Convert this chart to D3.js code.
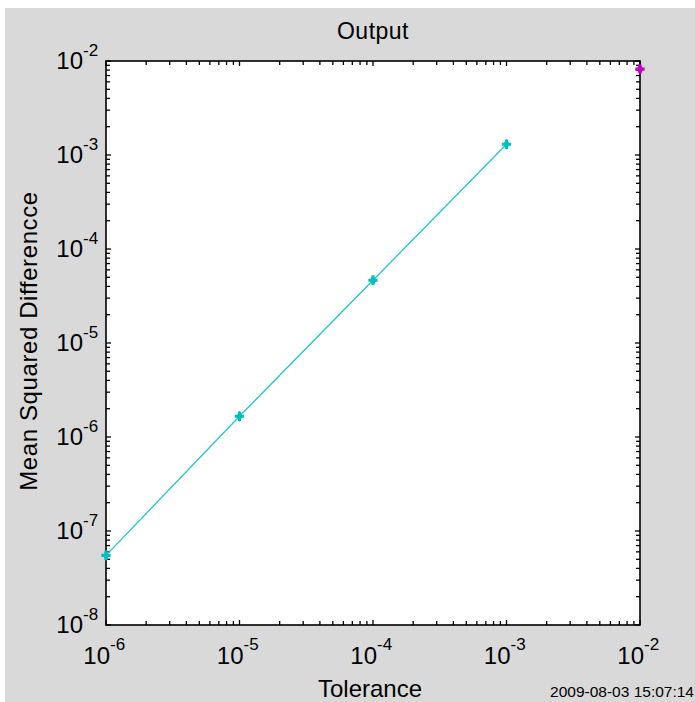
<!DOCTYPE html>
<html>
<head>
<meta charset="utf-8">
<script src="https://cdn.jsdelivr.net/npm/d3@7"></script>
<style>
  html, body { margin: 0; padding: 0; background: #ffffff; }
  svg { display: block; }
  text { font-family: "Liberation Sans", Arial, sans-serif; fill: #000; }
</style>
</head>
<body>
<svg id="chart" width="695" height="702"></svg>
<script>
// ---- data ----
const tolerance = [1e-6, 1e-5, 1e-4, 1e-3];
const meanSqDiff = [5.5e-8, 1.66e-6, 4.65e-5, 1.3e-3];
const extraTolerance = [1e-2];
const extraMeanSqDiff = [8.2e-3];
const xTickExponents = [-6, -5, -4, -3, -2];
const yTickExponents = [-8, -7, -6, -5, -4, -3, -2];
const titleText = "Output";
const xLabelText = "Tolerance";
const yLabelText = "Mean Squared Differencce";
const stampText = "2009-08-03 15:07:14";

// ---- layout ----
const svg = d3.select("#chart");
const L = 106, R = 640, T = 61, B = 625;

svg.append("rect").attr("x", 5).attr("y", 8).attr("width", 690).attr("height", 694).attr("fill", "#d9d9d9");
svg.append("rect").attr("x", L).attr("y", T).attr("width", R - L).attr("height", B - T).attr("fill", "#ffffff");

const x = d3.scaleLog().domain([1e-6, 1e-2]).range([L, R]);
const y = d3.scaleLog().domain([1e-8, 1e-2]).range([B, T]);

// ticks (inward, all four sides)
function logTicks(lo, hi) {
  const out = [];
  for (let e = lo; e < hi; e++) {
    for (let m = 1; m <= 9; m++) out.push({ v: m * Math.pow(10, e), major: m === 1 });
  }
  out.push({ v: Math.pow(10, hi), major: true });
  return out;
}
const xt = logTicks(-6, -2), yt = logTicks(-8, -2);
const tg = svg.append("g").attr("stroke", "#000").attr("stroke-width", 1.3);
xt.forEach(t => {
  const px = x(t.v), len = t.major ? 5 : 4;
  tg.append("line").attr("x1", px).attr("x2", px).attr("y1", B).attr("y2", B - len);
  tg.append("line").attr("x1", px).attr("x2", px).attr("y1", T).attr("y2", T + len);
});
yt.forEach(t => {
  const py = y(t.v), len = t.major ? 5 : 4;
  tg.append("line").attr("x1", L).attr("x2", L + len).attr("y1", py).attr("y2", py);
  tg.append("line").attr("x1", R).attr("x2", R - len).attr("y1", py).attr("y2", py);
});

// frame
svg.append("rect").attr("x", L).attr("y", T).attr("width", R - L).attr("height", B - T)
  .attr("fill", "none").attr("stroke", "#000").attr("stroke-width", 1.6);

// tick labels
xTickExponents.forEach(e => {
  const px = x(Math.pow(10, e));
  svg.append("text").attr("x", px + 4).attr("y", 664).attr("text-anchor", "end")
    .attr("font-size", 24).text("10");
  svg.append("text").attr("x", px + 4).attr("y", 650).attr("text-anchor", "start")
    .attr("font-size", 17).text(String(e));
});
yTickExponents.forEach(e => {
  const py = y(Math.pow(10, e));
  svg.append("text").attr("x", 83).attr("y", py + 8).attr("text-anchor", "end")
    .attr("font-size", 24).text("10");
  svg.append("text").attr("x", 83).attr("y", py - 5).attr("text-anchor", "start")
    .attr("font-size", 17).text(String(e));
});

// line + markers
const color = "#00bfbf";
const line = d3.line().x(d => x(d[0])).y(d => y(d[1]));
const pts = tolerance.map((t, i) => [t, meanSqDiff[i]]);
svg.append("path").attr("d", line(pts)).attr("fill", "none").attr("stroke", "#22c8c8").attr("stroke-width", 1.3);

const star = d3.symbol().type(d3.symbolCross).size(48);
const dia = d3.symbol().type(d3.symbolDiamond).size(36);
function marker(px, py, c) {
  svg.append("path").attr("d", star()).attr("transform", `translate(${px},${py})`).attr("fill", c);
  svg.append("path").attr("d", dia()).attr("transform", `translate(${px},${py})`).attr("fill", c);
}
pts.forEach(d => marker(x(d[0]), y(d[1]), color));
extraTolerance.forEach((t, i) => marker(x(t), y(extraMeanSqDiff[i]), "#bf00bf"));

// titles
svg.append("text").attr("x", (L + R) / 2).attr("y", 39).attr("text-anchor", "middle")
  .attr("font-size", 23).attr("letter-spacing", 0.5).text(titleText);
svg.append("text").attr("x", 370).attr("y", 697).attr("text-anchor", "middle")
  .attr("font-size", 24).text(xLabelText);
svg.append("text").attr("transform", "translate(37,341) rotate(-90)").attr("text-anchor", "middle")
  .attr("font-size", 24).attr("letter-spacing", 0.6).text(yLabelText);
svg.append("text").attr("x", 694).attr("y", 697).attr("text-anchor", "end")
  .attr("font-size", 15.5).text(stampText);
</script>
</body>
</html>
